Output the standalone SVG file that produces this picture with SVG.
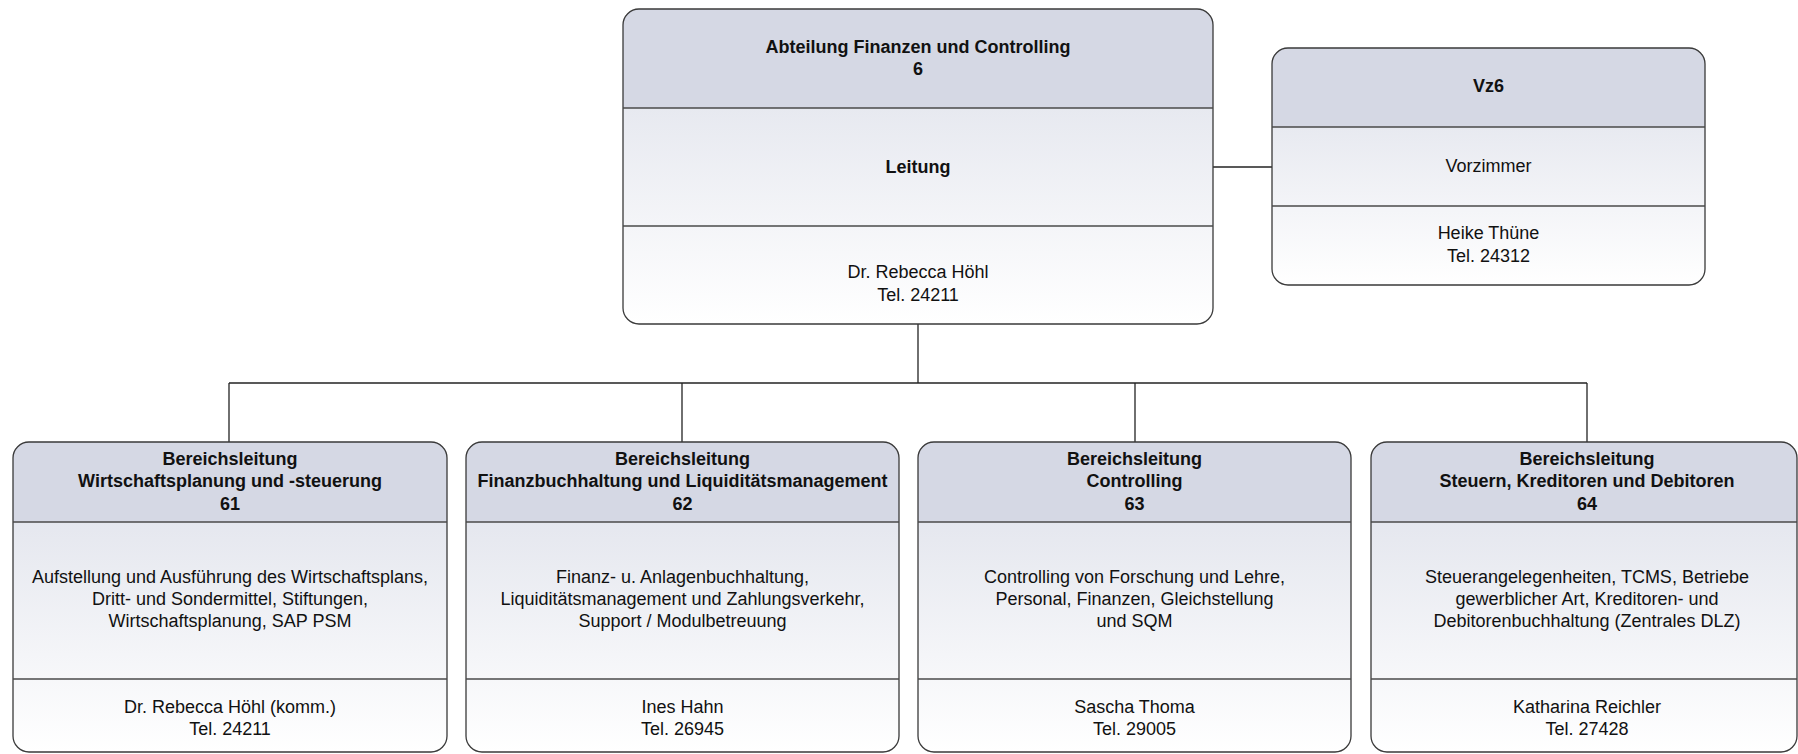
<svg xmlns="http://www.w3.org/2000/svg" width="1798" height="754" viewBox="0 0 1798 754">
<defs>
<linearGradient id="gTop" x1="0" y1="0" x2="0" y2="1">
<stop offset="0" stop-color="#dcdfe9"/>
<stop offset="1" stop-color="#ffffff"/>
</linearGradient>
<style>
.box{stroke:#3a3a3a;stroke-width:1.3;fill:none}
.hdr{fill:#d5d8e4}
.div{stroke:#4a4a4a;stroke-width:1.3}
.con{stroke:#222;stroke-width:1.3;fill:none}
text{font-family:"Liberation Sans",Arial,sans-serif;font-size:18px;fill:#111;text-anchor:middle}
.b{font-weight:bold}
</style>
<clipPath id="cTop"><rect x="623" y="9" width="590" height="315" rx="16"/></clipPath>
<clipPath id="cVz"><rect x="1272" y="48" width="433" height="237" rx="16"/></clipPath>
<clipPath id="c61"><rect x="13" y="442" width="434" height="310" rx="16"/></clipPath>
<clipPath id="c62"><rect x="466" y="442" width="433" height="310" rx="16"/></clipPath>
<clipPath id="c63"><rect x="918" y="442" width="433" height="310" rx="16"/></clipPath>
<clipPath id="c64"><rect x="1371" y="442" width="426" height="310" rx="16"/></clipPath>
</defs>
<rect width="1798" height="754" fill="#ffffff"/>

<g id="connectors">
<line class="con" x1="1213" y1="167" x2="1272" y2="167"/>
<line class="con" x1="918" y1="324" x2="918" y2="383"/>
<line class="con" x1="229" y1="383" x2="1587" y2="383"/>
<line class="con" x1="229" y1="383" x2="229" y2="442"/>
<line class="con" x1="682" y1="383" x2="682" y2="442"/>
<line class="con" x1="1135" y1="383" x2="1135" y2="442"/>
<line class="con" x1="1587" y1="383" x2="1587" y2="442"/>
</g>

<g id="node-6">
<rect x="623" y="9" width="590" height="315" rx="16" fill="url(#gTop)"/>
<rect class="hdr" x="623" y="9" width="590" height="99" clip-path="url(#cTop)"/>
<rect class="box" x="623" y="9" width="590" height="315" rx="16"/>
<line class="div" x1="623" y1="108" x2="1213" y2="108"/>
<line class="div" x1="623" y1="226" x2="1213" y2="226"/>
<text class="b" x="918" y="53">Abteilung Finanzen und Controlling</text>
<text class="b" x="918" y="75">6</text>
<text class="b" x="918" y="173">Leitung</text>
<text x="918" y="278">Dr. Rebecca Höhl</text>
<text x="918" y="301">Tel. 24211</text>
</g>

<g id="node-vz6">
<rect x="1272" y="48" width="433" height="237" rx="16" fill="url(#gTop)"/>
<rect class="hdr" x="1272" y="48" width="433" height="79" clip-path="url(#cVz)"/>
<rect class="box" x="1272" y="48" width="433" height="237" rx="16"/>
<line class="div" x1="1272" y1="127" x2="1705" y2="127"/>
<line class="div" x1="1272" y1="206" x2="1705" y2="206"/>
<text class="b" x="1488.5" y="92">Vz6</text>
<text x="1488.5" y="172">Vorzimmer</text>
<text x="1488.5" y="239">Heike Thüne</text>
<text x="1488.5" y="262">Tel. 24312</text>
</g>

<g id="node-61">
<rect x="13" y="442" width="434" height="310" rx="16" fill="url(#gTop)"/>
<rect class="hdr" x="13" y="442" width="434" height="80" clip-path="url(#c61)"/>
<rect class="box" x="13" y="442" width="434" height="310" rx="16"/>
<line class="div" x1="13" y1="522" x2="447" y2="522"/>
<line class="div" x1="13" y1="679" x2="447" y2="679"/>
<text class="b" x="230" y="465">Bereichsleitung</text>
<text class="b" x="230" y="487">Wirtschaftsplanung und -steuerung</text>
<text class="b" x="230" y="510">61</text>
<text x="230" y="583">Aufstellung und Ausführung des Wirtschaftsplans,</text>
<text x="230" y="605">Dritt- und Sondermittel, Stiftungen,</text>
<text x="230" y="627">Wirtschaftsplanung, SAP PSM</text>
<text x="230" y="713">Dr. Rebecca Höhl (komm.)</text>
<text x="230" y="735">Tel. 24211</text>
</g>

<g id="node-62">
<rect x="466" y="442" width="433" height="310" rx="16" fill="url(#gTop)"/>
<rect class="hdr" x="466" y="442" width="433" height="80" clip-path="url(#c62)"/>
<rect class="box" x="466" y="442" width="433" height="310" rx="16"/>
<line class="div" x1="466" y1="522" x2="899" y2="522"/>
<line class="div" x1="466" y1="679" x2="899" y2="679"/>
<text class="b" x="682.5" y="465">Bereichsleitung</text>
<text class="b" x="682.5" y="487">Finanzbuchhaltung und Liquiditätsmanagement</text>
<text class="b" x="682.5" y="510">62</text>
<text x="682.5" y="583">Finanz- u. Anlagenbuchhaltung,</text>
<text x="682.5" y="605">Liquiditätsmanagement und Zahlungsverkehr,</text>
<text x="682.5" y="627">Support / Modulbetreuung</text>
<text x="682.5" y="713">Ines Hahn</text>
<text x="682.5" y="735">Tel. 26945</text>
</g>

<g id="node-63">
<rect x="918" y="442" width="433" height="310" rx="16" fill="url(#gTop)"/>
<rect class="hdr" x="918" y="442" width="433" height="80" clip-path="url(#c63)"/>
<rect class="box" x="918" y="442" width="433" height="310" rx="16"/>
<line class="div" x1="918" y1="522" x2="1351" y2="522"/>
<line class="div" x1="918" y1="679" x2="1351" y2="679"/>
<text class="b" x="1134.5" y="465">Bereichsleitung</text>
<text class="b" x="1134.5" y="487">Controlling</text>
<text class="b" x="1134.5" y="510">63</text>
<text x="1134.5" y="583">Controlling von Forschung und Lehre,</text>
<text x="1134.5" y="605">Personal, Finanzen, Gleichstellung</text>
<text x="1134.5" y="627">und SQM</text>
<text x="1134.5" y="713">Sascha Thoma</text>
<text x="1134.5" y="735">Tel. 29005</text>
</g>

<g id="node-64">
<rect x="1371" y="442" width="426" height="310" rx="16" fill="url(#gTop)"/>
<rect class="hdr" x="1371" y="442" width="426" height="80" clip-path="url(#c64)"/>
<rect class="box" x="1371" y="442" width="426" height="310" rx="16"/>
<line class="div" x1="1371" y1="522" x2="1797" y2="522"/>
<line class="div" x1="1371" y1="679" x2="1797" y2="679"/>
<text class="b" x="1587" y="465">Bereichsleitung</text>
<text class="b" x="1587" y="487">Steuern, Kreditoren und Debitoren</text>
<text class="b" x="1587" y="510">64</text>
<text x="1587" y="583">Steuerangelegenheiten, TCMS, Betriebe</text>
<text x="1587" y="605">gewerblicher Art, Kreditoren- und</text>
<text x="1587" y="627">Debitorenbuchhaltung (Zentrales DLZ)</text>
<text x="1587" y="713">Katharina Reichler</text>
<text x="1587" y="735">Tel. 27428</text>
</g>
</svg>
